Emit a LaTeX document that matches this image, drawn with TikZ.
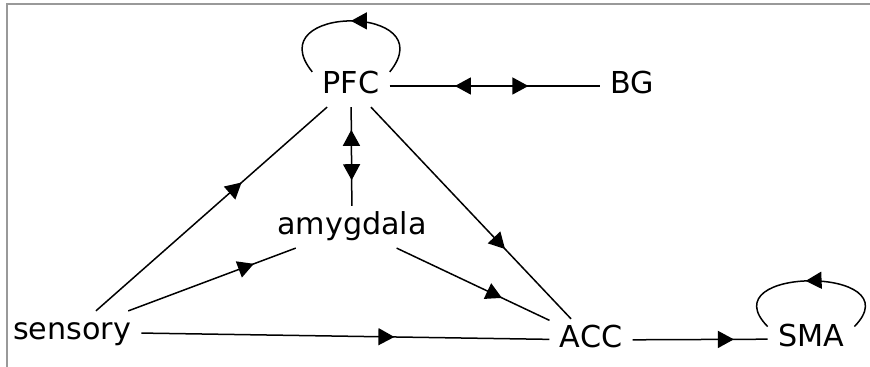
\documentclass[tikz,border=0pt]{standalone}
\usepackage{fontspec}
\setmainfont{DejaVu Sans}
\usetikzlibrary{arrows.meta,decorations.markings}

\begin{document}
\begin{tikzpicture}[x=0.5pt,y=-0.5pt,
	region/.style={rectangle,inner sep=5pt,font=\fontsize{15.1}{18}\selectfont,
		text height=0.9em,text depth=0.17em},
	link/.style={line width=0.75pt},
	fwd/.style={postaction={decorate,decoration={markings,
		mark=at position #1 with {\arrow{Triangle[length=8pt,width=8.5pt]}}}}},
	bwd/.style={postaction={decorate,decoration={markings,
		mark=at position #1 with {\arrowreversed{Triangle[length=8pt,width=8.5pt]}}}}}]
	\useasboundingbox (0,0) rectangle (870,367);
	% Draw frame
	\draw [black!40,line width=1pt] (7,367) -- (7,4) -- (870,4);
	% Draw the regions
	\node [region] (pfc) at (351,86) {PFC};
	\node [region] (bg) at (632,86) {BG};
	\node [region] (amygdala) at (352,227) {amygdala};
	\node [region] (sensory) at (72,332) {sensory};
	\node [region] (acc) at (591,340) {ACC};
	\node [region] (sma) at (811,339) {SMA};
	% Sensory input
	\draw [link,fwd=0.63] (sensory) -- (pfc);
	\draw [link,fwd=0.75] (sensory) -- (amygdala);
	\draw [link,fwd=0.62] (sensory) -- (acc);
	% Two-way connections
	\draw [link,bwd=0.23,fwd=0.74] (pfc) -- (amygdala);
	\draw [link,bwd=0.31,fwd=0.66] (pfc) -- (bg);
	% Into ACC and on to SMA
	\draw [link,fwd=0.67] (pfc) -- (acc);
	\draw [link,fwd=0.69] (amygdala) -- (acc);
	\draw [link,fwd=0.75] (acc) -- (sma);
	% Self loops
	\draw [link,fwd=0.5] (pfc.20) .. controls +(55,-68) and +(-55,-68) .. (pfc.160);
	\draw [link,fwd=0.53] (sma.16) .. controls +(60,-61) and +(-60,-61) .. (sma.164);
\end{tikzpicture}
\end{document}
